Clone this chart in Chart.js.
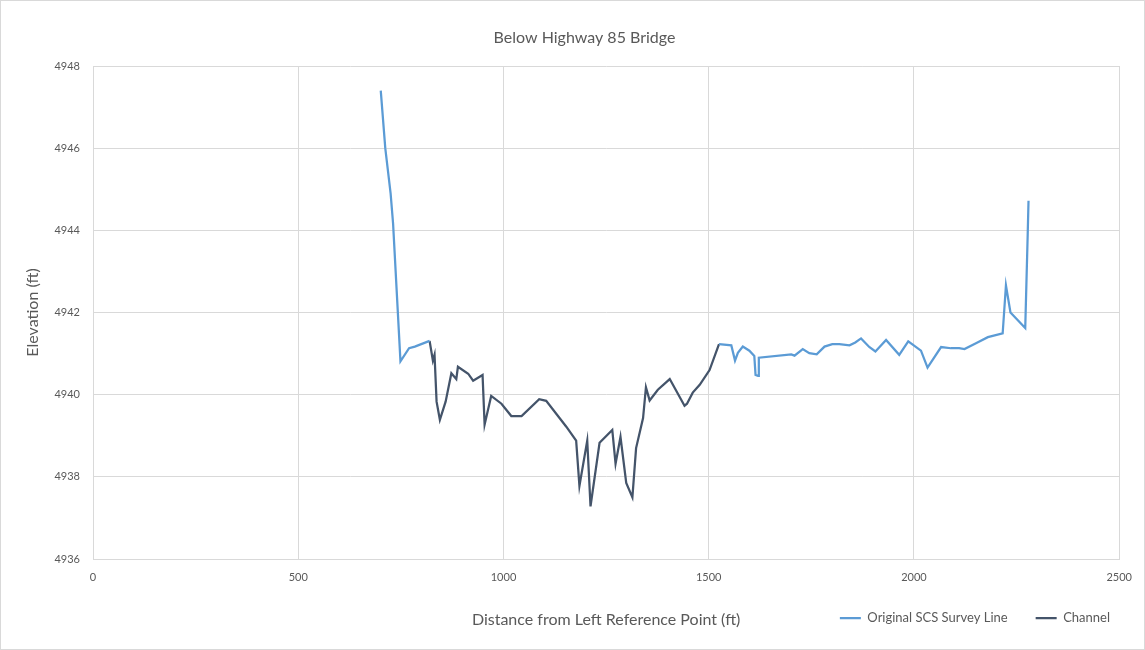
<!DOCTYPE html>
<html>
<head>
<meta charset="utf-8">
<script src="https://cdn.jsdelivr.net/npm/chart.js@4.4.1/dist/chart.umd.min.js"></script>
<style>
  html, body { margin: 0; padding: 0; background: #fff; }
  #wrap { width: 1145px; height: 650px; box-sizing: border-box; border: 1px solid #d9d9d9; position: relative; }
</style>
</head>
<body>
<div id="wrap"><canvas id="chart"></canvas></div>
<script>
// survey line, left bank (ft, elevation ft)
var surveyLeftX = [701, 712, 725, 731, 749, 770, 784, 820];
var surveyLeftY = [4947.40, 4946.00, 4944.90, 4944.17, 4940.81, 4941.13, 4941.17, 4941.31];

// survey line, right bank
var surveyRightX = [1525, 1555, 1564, 1571, 1583, 1599, 1611, 1614, 1620, 1622, 1701, 1709, 1729, 1745, 1763,
    1782, 1801, 1818, 1843, 1857, 1871, 1891, 1906, 1932, 1964, 1986, 2017, 2033, 2066, 2090, 2110, 2123,
    2151, 2180, 2216, 2224, 2235, 2271, 2277, 2279];
var surveyRightY = [4941.23, 4941.20, 4940.83, 4941.02, 4941.17, 4941.07, 4940.94, 4940.48, 4940.46, 4940.90, 4940.98,
    4940.95, 4941.11, 4941.01, 4940.98, 4941.17, 4941.23, 4941.23, 4941.20, 4941.27, 4941.37, 4941.16, 4941.05,
    4941.33, 4940.97, 4941.30, 4941.07, 4940.66, 4941.16, 4941.13, 4941.13, 4941.11, 4941.25, 4941.40, 4941.49,
    4942.66, 4942.00, 4941.62, 4943.90, 4944.72];

// channel
var channelX = [820, 828, 832, 837, 845, 859, 873, 885, 889, 914, 926, 949, 954, 970, 995, 1019, 1044, 1087,
    1104, 1153, 1177, 1185, 1204, 1212, 1234, 1265, 1273, 1285, 1299, 1314, 1323, 1340, 1347, 1356, 1376,
    1405, 1441, 1447, 1461, 1478, 1502, 1525];
var channelY = [4941.31, 4940.83, 4940.97, 4939.83, 4939.39, 4939.83, 4940.52, 4940.38, 4940.68, 4940.51, 4940.34,
    4940.48, 4939.27, 4939.97, 4939.78, 4939.48, 4939.48, 4939.89, 4939.85, 4939.22, 4938.88, 4937.78, 4938.88,
    4937.28, 4938.83, 4939.14, 4938.32, 4938.97, 4937.85, 4937.50, 4938.70, 4939.43, 4940.18, 4939.86, 4940.12,
    4940.38, 4939.73, 4939.78, 4940.05, 4940.24, 4940.60, 4941.23];

var xTicks = [0, 500, 1000, 1500, 2000, 2500];
var yTicks = [4936, 4938, 4940, 4942, 4944, 4946, 4948];

function pairs(xs, ys) {
    return xs.map(function(x, i) { return {x: x, y: ys[i]}; });
}

// left + gap + right, the channel covers the middle
var surveyData = pairs(surveyLeftX, surveyLeftY)
    .concat([{x: 1200, y: null}])
    .concat(pairs(surveyRightX, surveyRightY));

var grey = '#595959';
Chart.defaults.font.family = 'Lato, "Open Sans", sans-serif';
Chart.defaults.color = grey;

// legend row sits on the same line as the x title, a bit further right
var legendShift = {
    id: 'legendShift',
    afterLayout: function(chart) {
        if (chart.legend) {
            chart.legend.right += 18;
            chart.legend.width += 18;
        }
    }
};

var ctx = document.getElementById('chart').getContext('2d');
var chart = new Chart(ctx, {
    type: 'line',
    data: {
        datasets: [{
            label: 'Original SCS Survey Line',
            data: surveyData,
            borderColor: '#5b9bd5',
            backgroundColor: '#5b9bd5',
            borderWidth: 2.25,
            pointRadius: 0,
            spanGaps: false
        }, {
            label: 'Channel',
            data: pairs(channelX, channelY),
            borderColor: '#44546a',
            backgroundColor: '#44546a',
            borderWidth: 2.25,
            pointRadius: 0
        }]
    },
    plugins: [legendShift],
    options: {
        responsive: true,
        maintainAspectRatio: false,
        animation: false,
        layout: { padding: { left: 48, right: 24, top: 0, bottom: 14.5 } },
        plugins: {
            title: {
                display: true,
                text: 'Below Highway 85 Bridge',
                color: grey,
                font: { size: 16, weight: 'normal' },
                padding: { top: 27.4, bottom: 18.4 }
            },
            legend: {
                position: 'bottom',
                align: 'end',
                labels: {
                    usePointStyle: true,
                    pointStyle: 'line',
                    pointStyleWidth: 21,
                    color: grey,
                    font: { size: 13 },
                    padding: 28
                }
            },
            tooltip: { enabled: false }
        },
        scales: {
            x: {
                type: 'linear',
                min: 0,
                max: 2500,
                afterBuildTicks: function(scale) {
                    scale.ticks = xTicks.map(function(v) { return {value: v}; });
                },
                afterFit: function(scale) { scale.height = 24.5; },
                grid: { color: '#d9d9d9', drawTicks: false },
                border: { color: '#d9d9d9' },
                ticks: {
                    padding: 12, font: { size: 11 }, color: grey,
                    callback: function(v) { return String(v); }
                },
                title: {
                    display: true,
                    text: 'Distance from Left Reference Point (ft)',
                    color: grey,
                    font: { size: 16 },
                    padding: { top: 0, bottom: -46.1 }
                }
            },
            y: {
                min: 4936,
                max: 4948,
                afterBuildTicks: function(scale) {
                    scale.ticks = yTicks.map(function(v) { return {value: v}; });
                },
                afterFit: function(scale) { scale.width = 44; },
                grid: { color: '#d9d9d9', drawTicks: false },
                border: { color: '#d9d9d9' },
                ticks: {
                    padding: 13, font: { size: 11 }, color: grey,
                    callback: function(v) { return String(v); }
                },
                title: {
                    display: true,
                    text: 'Elevation (ft)',
                    color: grey,
                    font: { size: 16 },
                    padding: { top: -25.6, bottom: 0 }
                }
            }
        }
    }
});
</script>
</body>
</html>
